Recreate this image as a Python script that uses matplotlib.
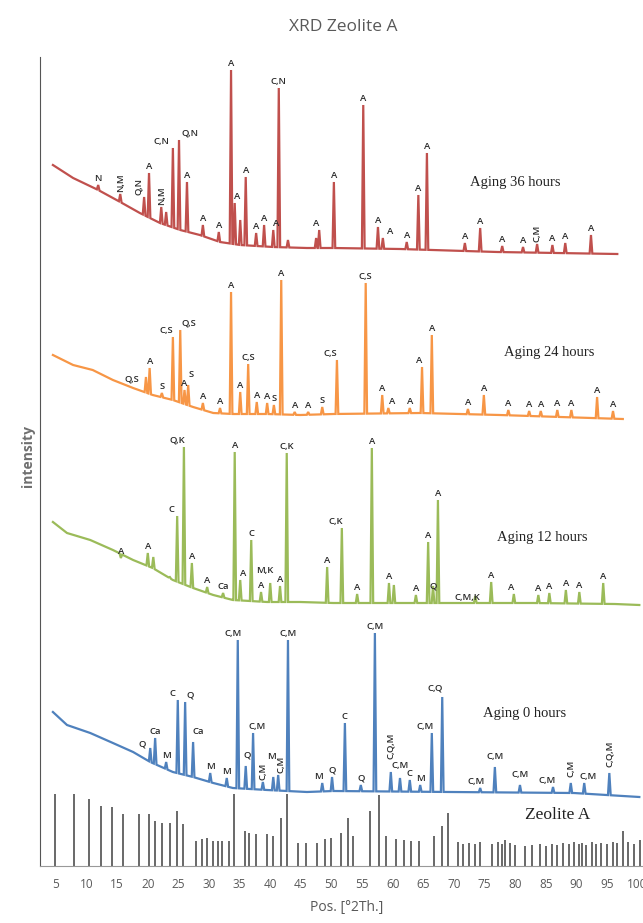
import numpy as np
import matplotlib
matplotlib.use("Agg")
import matplotlib.pyplot as plt

# 2theta in degrees, intensity in arbitrary units (stacked patterns)

# Aging 36 hours
bg36_x = [4.5, 7.8, 11.9, 15.5, 18.7, 22.0, 25.3, 28.5, 31.8, 35.1, 40.5, 46.0, 50.3, 61.2, 77.1, 96.7]
bg36_y = [701, 688, 676, 664, 653, 643, 636, 631, 624, 621, 619, 618, 618, 617, 614, 612]
pk36_x = [11.9, 15.5, 19.4, 20.2, 22.2, 23.0, 24.1, 25.1, 26.4, 29.0, 31.6, 33.6, 34.2, 35.1, 36.0,
          37.7, 39.0, 40.5, 41.4, 42.9, 47.5, 48.0, 50.4, 55.2, 57.6, 58.4, 62.3, 64.2, 65.6,
          71.8, 74.3, 77.9, 81.3, 83.6, 86.1, 88.2, 92.4]
pk36_y = [681, 672, 669, 693, 659, 654, 718, 726, 684, 641, 634, 796, 663, 646, 689,
          633, 641, 636, 778, 626, 628, 636, 684, 761, 639, 628, 624, 671, 713,
          623, 638, 620, 619, 622, 621, 623, 631]
pk36_lab = ["N", "N,M", "Q,N", "A", "N,M", "", "C,N", "Q,N", "A", "A", "A", "A", "A", "", "A",
            "A", "A", "A", "C,N", "", "", "A", "A", "A", "A", "A", "A", "A", "A",
            "A", "A", "A", "A", "C,M", "A", "A", "A"]

# Aging 24 hours
bg24_x = [4.5, 7.8, 11.0, 14.3, 17.6, 20.8, 24.1, 27.4, 30.7, 33.9, 39.5, 44.9, 50.3, 64.5, 77.5, 87.4, 97.6]
bg24_y = [511, 501, 496, 486, 478, 471, 466, 459, 453, 452, 452, 451, 452, 453, 451, 449, 447]
pk24_x = [19.7, 20.3, 22.3, 24.1, 25.3, 26.0, 26.6, 29.0, 31.8, 33.6, 35.1, 36.4, 37.8, 39.5, 40.6,
          41.8, 44.0, 46.2, 48.5, 50.9, 55.6, 58.3, 59.3, 62.8, 64.8, 66.4, 72.3, 74.9, 78.9,
          82.3, 84.2, 86.9, 89.2, 93.4, 96.0]
pk24_y = [489, 498, 473, 529, 536, 476, 481, 463, 458, 574, 474, 502, 464, 463, 461,
          586, 454, 454, 459, 506, 583, 471, 458, 458, 499, 531, 457, 471, 456,
          455, 455, 456, 456, 469, 455]
pk24_lab = ["Q,S", "A", "S", "C,S", "Q,S", "A", "S", "A", "A", "A", "A", "C,S", "A", "A", "S",
            "A", "A", "A", "S", "C,S", "C,S", "A", "A", "A", "A", "A", "A", "A", "A",
            "A", "A", "A", "A", "A", "A"]

# Aging 12 hours
bg12_x = [4.5, 6.8, 10.6, 14.3, 17.6, 20.8, 24.1, 27.4, 30.7, 33.9, 39.5, 44.9, 50.3, 69.5, 82.9, 96.3, 100.3]
bg12_y = [344, 333, 326, 316, 306, 298, 286, 278, 271, 266, 264, 264, 263, 263, 263, 262, 261]
pk12_x = [15.6, 20.0, 20.9, 23.6, 24.8, 25.9, 27.2, 29.7, 32.3, 34.2, 35.1, 36.9, 38.5, 40.0, 41.6,
          42.7, 49.3, 51.7, 54.2, 56.6, 59.4, 60.2, 63.8, 65.8, 66.6, 67.4, 73.5, 76.1, 79.8,
          83.8, 85.6, 88.3, 90.5, 94.4]
pk12_y = [308, 313, 309, 289, 350, 419, 303, 279, 273, 414, 286, 326, 274, 283, 280,
          413, 299, 338, 272, 418, 283, 281, 271, 324, 280, 366, 270, 284, 272,
          271, 273, 276, 274, 283]
pk12_lab = ["A", "A", "", "", "C", "Q,K", "A", "A", "Ca", "A", "A", "C", "A", "M,K", "A",
            "C,K", "A", "C,K", "A", "A", "A", "", "A", "A", "Q", "A", "C,M,K", "A", "A",
            "A", "A", "A", "A", "A"]

# Aging 0 hours
bg0_x = [4.5, 6.8, 10.6, 14.3, 17.6, 20.4, 24.1, 27.4, 30.7, 33.9, 39.5, 46.0, 50.3, 69.5, 89.6, 100.3]
bg0_y = [154, 141, 133, 123, 114, 104, 94, 89, 83, 78, 76, 74, 75, 74, 73, 69]
pk0_x = [20.4, 21.2, 23.0, 24.9, 26.1, 27.4, 30.2, 32.9, 34.7, 36.0, 37.2, 38.8, 40.5, 41.3, 42.9,
         48.5, 50.1, 52.2, 54.8, 57.1, 59.7, 61.2, 62.8, 64.5, 66.4, 68.1, 74.3, 76.7, 80.8,
         86.2, 89.1, 91.3, 95.4]
pk0_y = [118, 128, 104, 166, 164, 124, 93, 88, 226, 100, 133, 84, 89, 91, 226,
         83, 89, 143, 81, 233, 94, 88, 86, 81, 133, 169, 78, 99, 81,
         79, 83, 83, 93]
pk0_lab = ["Q", "Ca", "M", "C", "Q", "Ca", "M", "M", "C,M", "Q", "C,M", "C,M", "M", "C,M", "C,M",
           "M", "Q", "C", "Q", "C,M", "C,Q,M", "C,M", "C", "M", "C,M", "C,Q", "C,M", "C,M", "C,M",
           "C,M", "C,M", "C,M", "C,Q,M"]

# Zeolite A reference sticks
ref_x = [4.9, 7.9, 10.4, 12.4, 14.2, 15.9, 18.6, 20.2, 21.2, 22.4, 23.6, 24.8, 25.8, 27.8, 28.8,
         29.7, 30.7, 31.4, 32.2, 33.2, 34.1, 35.8, 36.6, 37.6, 39.5, 40.4, 41.8, 42.8, 44.6,
         45.8, 47.6, 48.9, 50.0, 51.5, 52.7, 53.6, 56.3, 57.7, 58.9, 60.5, 61.8, 63.0, 64.3,
         66.8, 68.1, 69.1, 70.6, 71.5, 72.5, 73.4, 74.3, 76.2, 77.2, 77.8, 78.4, 79.1, 80.0,
         81.6, 82.8, 84.1, 85.0, 86.0, 86.9, 87.9, 88.8, 89.7, 90.4, 91.0, 91.6, 92.6, 93.2,
         94.1, 95.1, 96.0, 96.6, 97.6, 98.5, 99.5, 100.4]
ref_y = [72, 72, 67, 60, 59, 52, 52, 52, 45, 43, 43, 55, 42, 25, 27,
         28, 25, 25, 25, 25, 72, 35, 33, 32, 32, 30, 48, 72, 23,
         23, 23, 27, 28, 33, 48, 30, 55, 71, 30, 27, 26, 25, 25,
         30, 40, 53, 24, 22, 23, 22, 24, 22, 24, 22, 26, 23, 21,
         20, 21, 22, 20, 22, 21, 23, 22, 24, 22, 23, 21, 24, 22,
         23, 22, 24, 23, 35, 24, 22, 26]

ticks = list(range(5, 101, 5))

red, orange, green, blue = "#C0504D", "#F79646", "#9BBB59", "#4F81BD"

# label nudges (points) and rotated labels
nudge = {
    ("36", 19.4): (-4, 0), ("36", 24.1): (-8, 0), ("36", 25.1): (8, 0), ("36", 34.2): (2, 0),
    ("36", 40.5): (2, 0), ("36", 48.0): (-2, 0), ("36", 58.4): (5, 0),
    ("24", 19.7): (-10, -6), ("24", 24.1): (-5, 0), ("24", 25.3): (6, 0), ("24", 26.6): (2, 3),
    ("24", 50.9): (-5, 0), ("24", 59.3): (3, 0), ("24", 64.8): (-2, 0),
    ("12", 24.8): (-4, 0), ("12", 25.9): (-5, 0), ("12", 35.1): (2, 0), ("12", 40.0): (-4, 4),
    ("12", 51.7): (-4, 0), ("12", 66.6): (0, -5), ("12", 73.5): (-6, -6), ("12", 79.8): (-2, 0),
    ("0", 20.4): (-6, -2), ("0", 24.9): (-3.5, 0), ("0", 26.1): (3.5, 0), ("0", 27.4): (4, 3),
    ("0", 34.7): (-3, 0), ("0", 36.0): (1, 3), ("0", 37.2): (3, 0), ("0", 40.5): (-1, 10),
    ("0", 41.3): (2, 0),
    ("0", 48.5): (-3, 0), ("0", 59.7): (0, 8), ("0", 61.2): (0, 4), ("0", 66.4): (-5, 0),
    ("0", 68.1): (-5, 2), ("0", 74.3): (-3, 0), ("0", 76.7): (0, 3), ("0", 80.8): (0, 3),
    ("0", 86.2): (-4, 0), ("0", 89.1): (0, 3), ("0", 91.3): (3, 0), ("0", 95.4): (0, 3),
}
rotated = {("36", 15.5), ("36", 19.4), ("36", 22.2), ("36", 83.6),
           ("0", 38.8), ("0", 41.3), ("0", 59.7), ("0", 89.1), ("0", 95.4)}


def build(bx, by, px, py, w=0.22):
    # background knots plus one spike per peak
    pts = [(x, y) for x, y in zip(bx, by) if min(abs(x - p) for p in px) > w]
    for x, y in zip(px, py):
        pts.append((x - w, np.interp(x - w, bx, by)))
        pts.append((x, y))
        pts.append((x + w, np.interp(x + w, bx, by)))
    pts.sort()
    return [p[0] for p in pts], [p[1] for p in pts]


fig = plt.figure(figsize=(6.43, 9.23), dpi=100)
ax = fig.add_axes([40 / 643, 57 / 923, 603 / 643, 809 / 923])

series = [
    ("36", bg36_x, bg36_y, pk36_x, pk36_y, pk36_lab, red),
    ("24", bg24_x, bg24_y, pk24_x, pk24_y, pk24_lab, orange),
    ("12", bg12_x, bg12_y, pk12_x, pk12_y, pk12_lab, green),
    ("0", bg0_x, bg0_y, pk0_x, pk0_y, pk0_lab, blue),
]

for name, bx, by, px, py, labs, col in series:
    xs, ys = build(bx, by, px, py)
    ax.plot(xs, ys, color=col, lw=1.6, solid_joinstyle="miter")
    for x, y, lab in zip(px, py, labs):
        if not lab:
            continue
        dx, dy = nudge.get((name, x), (0, 0))
        rot = 90 if (name, x) in rotated else 0
        ax.annotate(lab, (x, y), xytext=(dx, 1.5 + dy), textcoords="offset points",
                    ha="center", va="bottom", rotation=rot, fontsize=6.8, fontweight="semibold",
                    color="#2b2b2b", family=["Open Sans", "DejaVu Sans"])

ax.vlines(ref_x, 0, ref_y, color="#404040", lw=1.1)

serif = ["Liberation Serif", "DejaVu Serif"]
ax.text(80.0, 684, "Aging 36 hours", ha="center", va="center", fontsize=10.5, family=serif, color="#222222")
ax.text(85.5, 514, "Aging 24 hours", ha="center", va="center", fontsize=10.5, family=serif, color="#222222")
ax.text(84.4, 328, "Aging 12 hours", ha="center", va="center", fontsize=10.5, family=serif, color="#222222")
ax.text(81.5, 152, "Aging 0 hours", ha="center", va="center", fontsize=10.5, family=serif, color="#222222")
ax.text(87.0, 51, "Zeolite A", ha="center", va="center", fontsize=12.5, family=serif, color="#222222")

ax.set_xlim(2.39, 100.9)
ax.set_ylim(0, 809)
ax.set_xticks(ticks)
ax.set_xticklabels([str(t) for t in ticks])
ax.set_yticks([])
ax.tick_params(axis="x", length=0, pad=9, labelsize=8.5, labelcolor="#595959")
for lab in ax.get_xticklabels():
    lab.set_family(["Open Sans", "DejaVu Sans"])
for s in ["top", "right"]:
    ax.spines[s].set_visible(False)
ax.spines["left"].set_color("#555555")
ax.spines["bottom"].set_color("#999999")

fig.text(343 / 643, 1 - 27 / 923, "XRD Zeolite A", ha="center", va="center", fontsize=12.5,
         color="#595959", family=["Open Sans", "DejaVu Sans"])
fig.text(347 / 643, 1 - 908 / 923, "Pos. [°2Th.]", ha="center", va="center", fontsize=10,
         color="#595959", family=["Open Sans", "DejaVu Sans"])
fig.text(28 / 643, 1 - 456 / 923, "intensity", ha="center", va="center", rotation=90,
         fontsize=10, fontweight="bold", color="#6f6f6f", family=["Open Sans", "DejaVu Sans"])

fig.savefig("out.png", dpi=100)
